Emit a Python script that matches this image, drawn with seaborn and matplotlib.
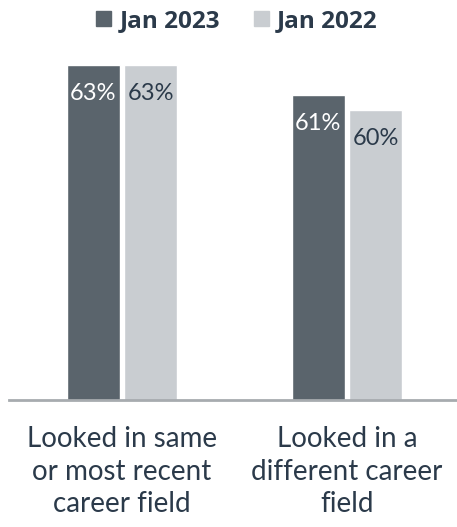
import pandas as pd
import matplotlib
import matplotlib.pyplot as plt
import seaborn as sns
from matplotlib.patches import Patch

matplotlib.use("Agg")

categories = ["Looked in same\nor most recent\ncareer field", "Looked in a\ndifferent career\nfield"]
periods = ["Jan 2023", "Jan 2022"]
jan_2023 = [63, 61]
jan_2022 = [63, 60]
colors = ["#5a646c", "#c9cdd1"]
label_colors = ["white", "#2b3a4a"]

df = pd.DataFrame({
    "category": categories * 2,
    "period": [periods[0]] * 2 + [periods[1]] * 2,
    "value": jan_2023 + jan_2022,
})

sns.set_style("white")
plt.rcParams['font.family'] = ['Lato', 'DejaVu Sans']

fig = plt.figure(figsize=(4.57, 5.27), dpi=100)
ax = fig.add_axes([9 / 457, 127 / 527, 448 / 457, 360 / 527])

sns.barplot(data=df, x="category", y="value", hue="period", palette=colors,
            width=0.51, gap=0.08, saturation=1, ax=ax, legend=False)

ax.set_ylim(40.67, 64.67)
ax.set_xlim(-0.502, 1.489)

for cont, col in zip(ax.containers, label_colors):
    ax.bar_label(cont, labels=[f"{v:.0f}%" for v in cont.datavalues],
                 padding=-28, color=col, fontsize=17)

sns.despine(ax=ax, left=True)
ax.spines["bottom"].set_color("#a7abaf")
ax.spines["bottom"].set_linewidth(2)
ax.set_yticks([])
ax.set_xlabel("")
ax.set_ylabel("")
ax.tick_params(axis="x", length=0, pad=19)
for t in ax.get_xticklabels():
    t.set_fontsize(20)
    t.set_color("#2b3a4a")
    t.set_linespacing(1.3)

handles = [Patch(color=c) for c in colors]
fig.legend(handles, periods, loc="center", bbox_to_anchor=(237 / 457, 1 - 21 / 527),
           ncol=2, frameon=False, handlelength=0.6, handleheight=0.6,
           handletextpad=0.35, columnspacing=1.4,
           prop={"family": "Open Sans", "size": 17.5, "weight": "bold"}, labelcolor="#2b3a4a")

fig.savefig("out.png", dpi=100)
